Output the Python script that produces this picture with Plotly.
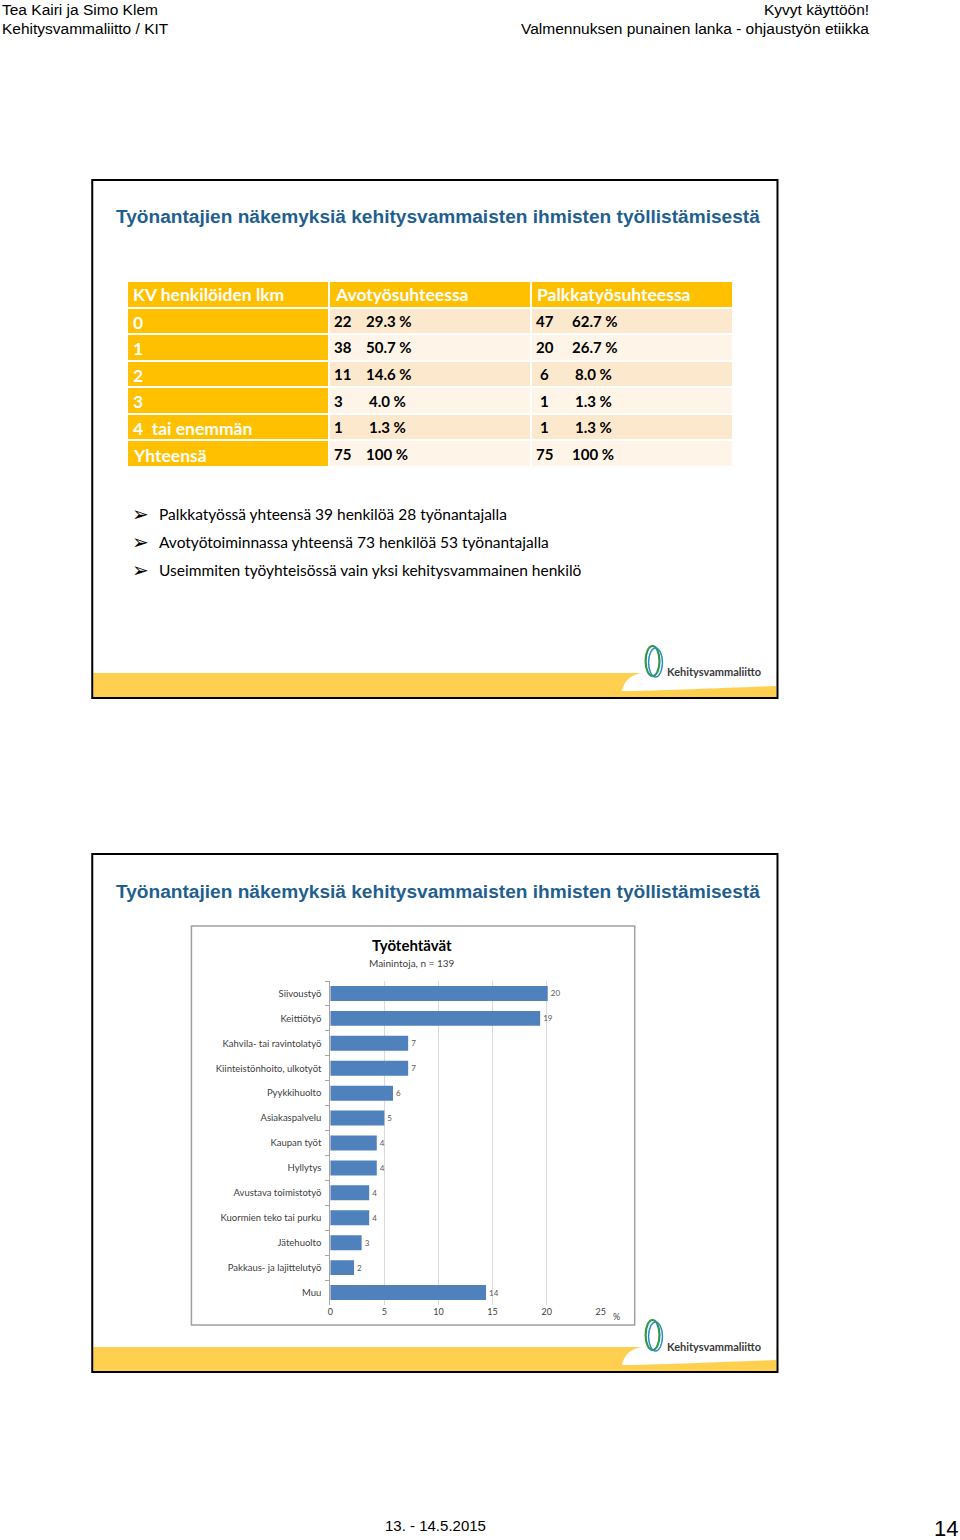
import plotly.graph_objects as go

W, H = 960, 1540

# ---------------- data ----------------
page_left = ["Tea Kairi ja Simo Klem", "Kehitysvammaliitto / KIT"]
page_right = ["Kyvyt käyttöön!", "Valmennuksen punainen lanka - ohjaustyön etiikka"]
slide_title = "Työnantajien näkemyksiä kehitysvammaisten ihmisten työllistämisestä"

table_header = ["KV henkilöiden lkm", "Avotyösuhteessa", "Palkkatyösuhteessa"]
row_labels = ["0", "1", "2", "3", "4  tai enemmän", "Yhteensä"]
avo_n = [22, 38, 11, 3, 1, 75]
avo_pct = ["29.3 %", "50.7 %", "14.6 %", "4.0 %", "1.3 %", "100 %"]
palk_n = [47, 20, 6, 1, 1, 75]
palk_pct = ["62.7 %", "26.7 %", "8.0 %", "1.3 %", "1.3 %", "100 %"]

bullets = [
    "Palkkatyössä yhteensä 39 henkilöä 28 työnantajalla",
    "Avotyötoiminnassa yhteensä 73 henkilöä 53 työnantajalla",
    "Useimmiten työyhteisössä vain yksi kehitysvammainen henkilö",
]

chart_title = "Työtehtävät"
chart_subtitle = "Mainintoja, n = 139"
tasks = ["Siivoustyö", "Keittiötyö", "Kahvila- tai ravintolatyö", "Kiinteistönhoito, ulkotyöt",
         "Pyykkihuolto", "Asiakaspalvelu", "Kaupan työt", "Hyllytys", "Avustava toimistotyö",
         "Kuormien teko tai purku", "Jätehuolto", "Pakkaus- ja lajittelutyö", "Muu"]
task_pct = [20.1, 19.4, 7.2, 7.2, 5.8, 5.0, 4.3, 4.3, 3.6, 3.6, 2.9, 2.2, 14.4]
x_ticks = [0, 5, 10, 15, 20, 25]

footer_date = "13. - 14.5.2015"
page_no = "14"
logo_text = "Kehitysvammaliitto"

# ---------------- helpers ----------------
def px(x):
    return x / W

def py(y):
    return 1 - y / H

ORANGE = "#FFC000"
LIGHT1 = "#FCE9CD"
LIGHT2 = "#FEF4E7"
BLUE_T = "#1F5F8F"

fig = go.Figure()

# ---------------- table as a heatmap grid ----------------
n_rows = len(row_labels) + 1
n_cols = len(table_header)
z = []
for r in range(n_rows):
    row = []
    for c in range(n_cols):
        if r == 0 or c == 0:
            row.append(0)
        else:
            row.append(1 if (r - 1) % 2 == 0 else 2)
    z.append(row)

fig.add_trace(go.Heatmap(
    z=z, x=list(range(n_cols)), y=list(range(n_rows)), xaxis="x2", yaxis="y2",
    colorscale=[[0, ORANGE], [0.33, ORANGE], [0.34, LIGHT1], [0.66, LIGHT1], [0.67, LIGHT2], [1, LIGHT2]],
    zmin=0, zmax=2, showscale=False, xgap=2, ygap=2, hoverinfo="skip",
))

# ---------------- bar chart ----------------
fig.add_trace(go.Bar(
    y=tasks, x=task_pct, orientation="h", marker=dict(color="#4F81BD", line=dict(width=0)),
    width=0.6, texttemplate="%{x:.0f}", textposition="outside",
    textfont=dict(family="Lato", size=8, color="#595959"), cliponaxis=False,
    xaxis="x", yaxis="y", hoverinfo="skip",
))

fig.update_layout(
    width=W, height=H, margin=dict(l=0, r=0, t=0, b=0),
    paper_bgcolor="white", plot_bgcolor="rgba(0,0,0,0)", showlegend=False,
    xaxis=dict(domain=[px(330), px(603)], anchor="y", range=[0, 25.02], tickvals=x_ticks,
               showgrid=True, gridcolor="#D9D9D9", gridwidth=1, zeroline=False,
               showline=False, ticks="", tickfont=dict(family="Lato", size=9, color="#404040"),
               fixedrange=True),
    yaxis=dict(domain=[py(1305), py(981)], anchor="x", autorange="reversed",
               showline=True, linecolor="#A6A6A6", linewidth=1, ticks="outside",
               tickson="boundaries", ticklen=4, tickcolor="#A6A6A6", ticklabelstandoff=6,
               tickfont=dict(family="Lato", size=9.5, color="#404040"),
               showgrid=False, fixedrange=True),
    xaxis2=dict(domain=[px(125), px(736)], anchor="y2", range=[-0.5, n_cols - 0.5],
                visible=False, fixedrange=True),
    yaxis2=dict(domain=[py(467), py(281)], anchor="x2", range=[n_rows - 0.5, -0.5],
                visible=False, fixedrange=True),
    bargap=0.4,
)

shapes = []
annotations = []

def text(x, y, s, size, color="black", family="Liberation Sans", xanchor="left", yanchor="middle", **kw):
    annotations.append(dict(x=px(x), y=py(y), xref="paper", yref="paper", text=s, showarrow=False,
                            xanchor=xanchor, yanchor=yanchor,
                            font=dict(size=size, color=color, family=family), **kw))

# table texts (placed on the table grid axes)
col_w_px = (736 - 125) / n_cols

def cell(c, r, s, off_px, size, color):
    annotations.append(dict(x=c - 0.5 + off_px / col_w_px, y=r, xref="x2", yref="y2", text=s,
                            showarrow=False, xanchor="left", yanchor="middle",
                            font=dict(family="Lato", size=size, color=color)))

def pct_shift(p, base):
    # single-digit percentages sit a little to the right
    return base + (3 if len(p) < 6 and not p.startswith("100") else 0)

for c, h in enumerate(table_header):
    cell(c, 0, f"<b>{h}</b>", 4, 17.5, "white")
for r, lab in enumerate(row_labels, start=1):
    cell(0, r + 0.05, f"<b>{lab}</b>", 4, 17.5, "white")
for r, (n, p) in enumerate(zip(avo_n, avo_pct), start=1):
    cell(1, r, f"<b>{n}</b>", 3, 15, "black")
    cell(1, r, f"<b>{p}</b>", pct_shift(p, 35), 15, "black")
for r, (n, p) in enumerate(zip(palk_n, palk_pct), start=1):
    cell(2, r, f"<b>{n}</b>", 3 + (4 if n < 10 else 0), 15, "black")
    cell(2, r, f"<b>{p}</b>", pct_shift(p, 39), 15, "black")

# page header / footer
text(-3, 9, page_left[0], 15.5)
text(-3, 28, page_left[1], 15.5)
text(875, 9, page_right[0], 15.5, xanchor="right")
text(875, 28, page_right[1], 15.5, xanchor="right")
text(436, 1525, footer_date, 15, xanchor="center")
text(965, 1528, page_no, 22, xanchor="right")

def slide(top):
    shapes.append(dict(type="rect", xref="paper", yref="paper", x0=px(91), x1=px(780),
                       y0=py(top + 517), y1=py(top + 493), fillcolor="#FFCF4F", line=dict(width=0),
                       layer="below"))

    def P(x, y):
        return f"{px(x)},{py(y)}"
    path = (f"M {P(624, top + 511)} C {P(628, top + 497)} {P(636, top + 492)} {P(660, top + 492)} "
            f"L {P(780, top + 492)} L {P(780, top + 506)} C {P(720, top + 508)} {P(680, top + 510)} "
            f"{P(624, top + 511)} Z")
    shapes.append(dict(type="path", xref="paper", yref="paper", path=path,
                       fillcolor="white", line=dict(width=0), layer="below"))
    shapes.append(dict(type="circle", xref="paper", yref="paper", x0=px(648), x1=px(662),
                       y0=py(top + 496), y1=py(top + 466), line=dict(color="#2E9A47", width=2.2),
                       layer="above"))
    shapes.append(dict(type="circle", xref="paper", yref="paper", x0=px(651), x1=px(665),
                       y0=py(top + 497), y1=py(top + 468), line=dict(color="#2B8ACB", width=1.5),
                       layer="above"))
    text(668, top + 492, f"<b>{logo_text}</b>", 11, color="#3A3A3A", family="Lato")
    shapes.append(dict(type="rect", xref="paper", yref="paper", x0=px(90), x1=px(781),
                       y0=py(top + 518), y1=py(top), line=dict(color="black", width=2),
                       layer="above"))
    text(439, top + 37, f"<b>{slide_title}</b>", 19.1, color=BLUE_T, xanchor="center")

slide(180)
slide(854)

# bullets
for i, b in enumerate(bullets):
    yy = 514 + 28 * i
    text(139, yy, "➢", 20, family="DejaVu Sans", xanchor="center")
    text(155, yy, b, 15.5, family="Lato")

# chart box
shapes.append(dict(type="rect", xref="paper", yref="paper", x0=px(190), x1=px(637),
                   y0=py(1325), y1=py(926), line=dict(color="#A0A0A0", width=1.5),
                   fillcolor="white", layer="below"))
text(412, 945, f"<b>{chart_title}</b>", 15, family="Lato", xanchor="center")
text(412, 963, chart_subtitle, 10, family="Lato", color="#404040", xanchor="center")
text(613, 1316, "%", 9, family="Lato", color="#404040")

fig.update_layout(shapes=shapes, annotations=annotations)
fig.write_html("out.html", config={"displayModeBar": False},
               post_script="document.body.style.margin='0';document.body.style.overflow='hidden';")
